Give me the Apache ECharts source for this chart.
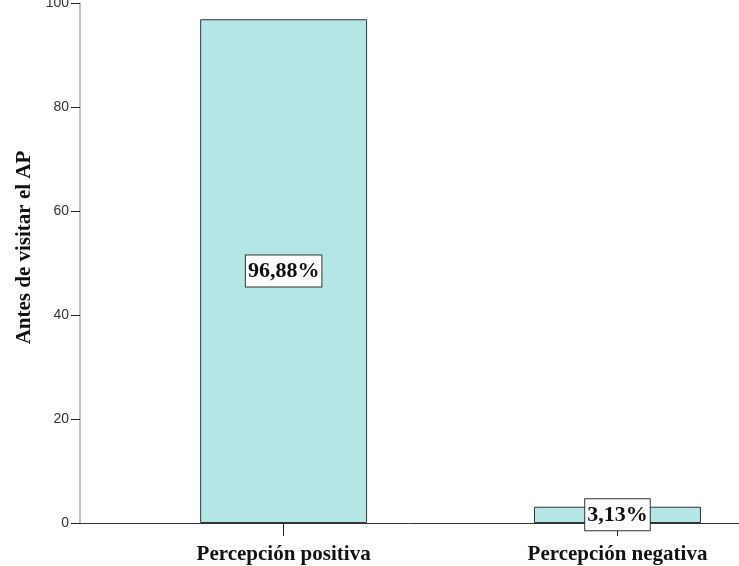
<!DOCTYPE html>
<html>
<head>
<meta charset="utf-8">
<script src="https://cdn.jsdelivr.net/npm/echarts@6/dist/echarts.min.js"></script>
<style>html,body{margin:0;padding:0;background:#fff}#c{width:739px;height:566px}</style>
</head>
<body>
<div id="c"></div>
<script>
var categories = ['Percepción positiva', 'Percepción negativa'];
var values = [96.88, 3.13];
var valueLabels = ['96,88%', '3,13%'];
var yTicks = [0, 20, 40, 60, 80, 100];
var yTitle = 'Antes de visitar el AP';

var chart = echarts.init(document.getElementById('c'), null, {renderer: 'canvas'});
var serif = '"Liberation Serif", "DejaVu Serif", serif';
chart.setOption({
  animation: false,
  backgroundColor: '#fff',
  grid: [
    {left: 80, right: 0, top: 3, bottom: 43, outerBoundsMode: 'none'},
    {left: 116.7, right: -45.4, top: 3, bottom: 43, outerBoundsMode: 'none'}
  ],
  xAxis: [
    {gridIndex: 0, type: 'category', data: categories, boundaryGap: true,
     axisLine: {lineStyle: {color: '#333', width: 1}}, axisTick: {show: false}, axisLabel: {show: false}},
    {gridIndex: 1, type: 'category', data: categories, boundaryGap: true,
     axisLine: {show: false},
     axisTick: {show: true, alignWithLabel: true, length: 13, lineStyle: {color: '#222'}},
     axisLabel: {color: '#111', fontFamily: serif, fontWeight: 'bold', fontSize: 21, margin: 21}}
  ],
  yAxis: [
    {gridIndex: 0, type: 'value', min: yTicks[0], max: yTicks[yTicks.length - 1], interval: 20,
     name: yTitle, nameLocation: 'middle', nameGap: 44, nameRotate: 90,
     nameTextStyle: {color: '#111', fontFamily: serif, fontWeight: 'bold', fontSize: 21, padding: [0, 0, 0, 31]},
     axisLine: {show: true, lineStyle: {color: '#aaa', width: 1.5}},
     axisTick: {show: true, length: 9, lineStyle: {color: '#222'}},
     axisLabel: {color: '#333', fontFamily: 'Arial, "Liberation Sans", sans-serif', fontSize: 14, margin: 11},
     splitLine: {show: false}},
    {gridIndex: 1, type: 'value', min: yTicks[0], max: yTicks[yTicks.length - 1], interval: 20, show: false}
  ],
  series: [{
    type: 'bar', xAxisIndex: 1, yAxisIndex: 1,
    data: values,
    barWidth: '50%',
    itemStyle: {color: '#b4e6e6', borderColor: '#333', borderWidth: 1},
    label: {show: true, position: 'inside',
      formatter: function (p) { return valueLabels[p.dataIndex]; },
      color: '#111', fontFamily: serif, fontWeight: 'bold', fontSize: 22,
      backgroundColor: '#fff', borderColor: '#333', borderWidth: 1, padding: [5, 2, 4, 2]}
  }]
});
</script>
</body>
</html>
